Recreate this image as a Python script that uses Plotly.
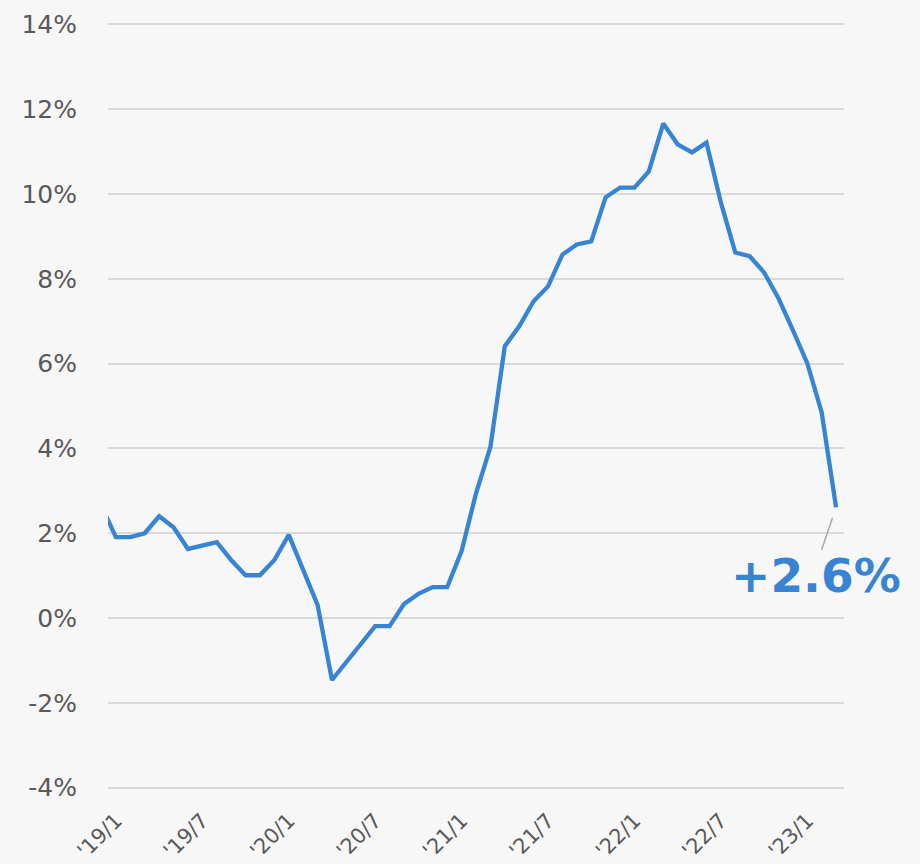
import plotly.graph_objects as go

months = [
    "2018/12",
    "2019/1", "2019/2", "2019/3", "2019/4", "2019/5", "2019/6",
    "2019/7", "2019/8", "2019/9", "2019/10", "2019/11", "2019/12",
    "2020/1", "2020/2", "2020/3", "2020/4", "2020/5", "2020/6",
    "2020/7", "2020/8", "2020/9", "2020/10", "2020/11", "2020/12",
    "2021/1", "2021/2", "2021/3", "2021/4", "2021/5", "2021/6",
    "2021/7", "2021/8", "2021/9", "2021/10", "2021/11", "2021/12",
    "2022/1", "2022/2", "2022/3", "2022/4", "2022/5", "2022/6",
    "2022/7", "2022/8", "2022/9", "2022/10", "2022/11", "2022/12",
    "2023/1", "2023/2", "2023/3",
]
values = [
    2.64,
    1.91, 1.91, 2.00, 2.40, 2.14, 1.63, 1.72, 1.79, 1.37, 1.01, 1.01, 1.37,
    1.96, 1.13, 0.31, -1.46, -1.04, -0.61, -0.19, -0.19, 0.33, 0.57, 0.73, 0.73,
    1.58, 2.94, 4.03, 6.41, 6.88, 7.47, 7.82, 8.57, 8.81, 8.88, 9.92, 10.15,
    10.15, 10.53, 11.66, 11.17, 10.98, 11.21, 9.80, 8.62, 8.53, 8.15, 7.54, 6.79,
    6.01, 4.85, 2.61,
]
x_tick_vals = ["2019/1", "2019/7", "2020/1", "2020/7", "2021/1", "2021/7", "2022/1", "2022/7", "2023/1"]
x_tick_text = ["'19/1", "'19/7", "'20/1", "'20/7", "'21/1", "'21/7", "'22/1", "'22/7", "'23/1"]
y_tick_vals = [-4, -2, 0, 2, 4, 6, 8, 10, 12, 14]
y_tick_text = ["-4%", "-2%", "0%", "2%", "4%", "6%", "8%", "10%", "12%", "14%"]
last_label = "+2.6%"

BLUE = "#3784d5"
GRID = "#d9d9d9"
TXT = "#595959"
BG = "#f7f7f7"
FONT = "DejaVu Sans"

fig = go.Figure()
fig.add_trace(go.Scatter(
    x=months, y=values, mode="lines",
    line=dict(color=BLUE, width=4.3),
    hoverinfo="skip", showlegend=False,
))

# leader line
fig.add_annotation(
    x=months[-1], y=values[-1], xref="x", yref="y",
    text="", showarrow=True, arrowhead=0, arrowwidth=1.5,
    arrowcolor="#a6a6a6", ax=-15, ay=44, standoff=11,
)
# value label
fig.add_annotation(
    x=months[-1], y=values[-1], xref="x", yref="y",
    text="<b>" + last_label + "</b>", showarrow=False,
    font=dict(family=FONT, size=47, color=BLUE),
    xanchor="center", yanchor="middle", xshift=-20, yshift=-68,
)

fig.update_layout(
    width=920, height=864,
    margin=dict(l=108, r=76, t=23, b=75, autoexpand=False),
    paper_bgcolor=BG, plot_bgcolor=BG,
    font=dict(family=FONT, color=TXT),
    xaxis=dict(
        type="category",
        range=[0.45, len(months) - 1 + 0.55],
        tickmode="array", tickvals=x_tick_vals, ticktext=x_tick_text,
        tickangle=-45, tickfont=dict(size=21, color=TXT),
        showgrid=False, zeroline=False, showline=False, ticks="",
        ticklabelstandoff=14, automargin=False,
    ),
    yaxis=dict(
        range=[-4.03, 14.03],
        tickmode="array", tickvals=y_tick_vals, ticktext=y_tick_text,
        tickfont=dict(size=25, color=TXT),
        showgrid=True, gridcolor=GRID, gridwidth=2,
        zeroline=False, showline=False, ticks="",
        ticklabelstandoff=30, automargin=False,
    ),
)

fig.write_html(
    "out.html",
    config={"displayModeBar": False},
    post_script="document.body.style.margin='0';document.body.style.background='#f7f7f7';",
)
